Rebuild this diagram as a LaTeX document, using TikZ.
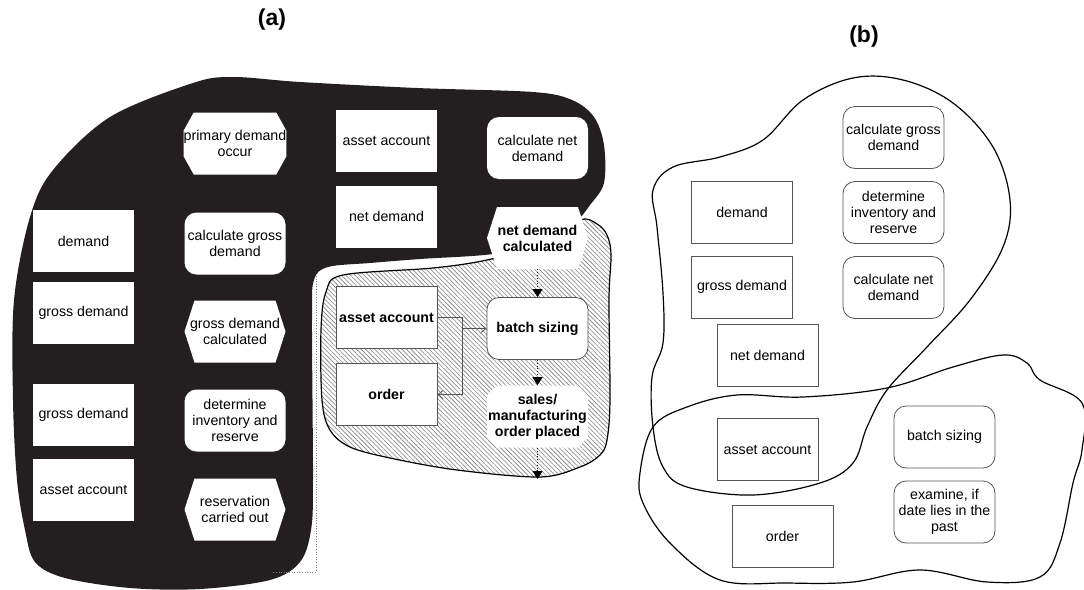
\documentclass[tikz,border=0pt]{standalone}
\usepackage{fontspec}
\setmainfont{Liberation Sans}
\usetikzlibrary{arrows.meta,patterns.meta,positioning}

\definecolor{blobfill}{RGB}{35,31,32}
\definecolor{boxline}{RGB}{85,85,85}

\begin{document}
\begin{tikzpicture}[
    x=0.5pt, y=-0.5pt,
    every node/.style={font=\fontsize{7.1}{8}\selectfont, align=center},
    box/.style={minimum width=50.5pt, minimum height=31pt, inner xsep=0pt, inner ysep=1pt},
    obj/.style={box, fill=white},
    fct/.style={box, fill=white, rounded corners=6pt},
    evt/.style={box, path picture={\fill[white]
        ([yshift=-#1]path picture bounding box.north west) -- ([xshift=5pt]path picture bounding box.north west)
        -- ([xshift=-5pt]path picture bounding box.north east) -- ([yshift=-#1]path picture bounding box.north east)
        -- ([yshift=#1]path picture bounding box.south east) -- ([xshift=-5pt]path picture bounding box.south east)
        -- ([xshift=5pt]path picture bounding box.south west) -- ([yshift=#1]path picture bounding box.south west) -- cycle;}},
    evt/.default=15.5pt,
    thinbox/.style={draw=boxline, line width=0.4pt},
    strong/.style={font=\fontsize{7.1}{8}\selectfont\bfseries},
    flow/.style={densely dotted, line width=0.4pt, -{Triangle[length=4pt,width=5pt]}},
    link/.style={boxline, line width=0.4pt, -{Straight Barb[length=2.5pt,width=4pt]}},
    blobline/.style={line width=0.6pt},
]
\useasboundingbox (0,0) rectangle (1084,590);

% (a) black area
\fill[blobfill] plot[smooth cycle, tension=0.55] coordinates {
    (233,77) (300,82) (417,88) (533,92) (572,100) (594,117) (604,145) (604,183)
    (590,205) (575,222) (540,242) (493,254) (420,259) (370,263) (328,267) (314,280)
    (312,320) (313,480) (311,530) (300,562) (270,580) (200,589) (130,588) (65,578)
    (35,562) (25,530) (17,480) (13,400) (14,300) (30,217) (53,170) (110,117) (193,83)};
% (a) hatched area
\draw[preaction={fill=white}, pattern={Lines[angle=-45,distance=1.6pt,line width=0.3pt]},
    pattern color=gray, blobline] plot[smooth cycle, tension=0.55] coordinates {
    (343,275) (433,268) (487,260) (540,245) (580,220) (597,224) (607,235) (611,255)
    (609,300) (610,400) (607,440) (600,455) (580,467) (540,477) (457,470) (390,458)
    (350,447) (330,430) (322,400) (321,330) (326,292)};
\draw[densely dotted, gray, line width=0.3pt] (316,276) -- (316,572) -- (273,572);

\node[font=\fontsize{11.5}{13}\selectfont\bfseries] (lbl-a) at (272,20) {(a)};
\node[font=\fontsize{11.5}{13}\selectfont\bfseries] (lbl-b) at (864,37) {(b)};

% (a) first column
\node[obj] (dem-a) at (83.5,241) {demand};
\node[obj, below of=dem-a, node distance=36pt] (gd-a) {gross demand};
\node[obj, below of=gd-a, node distance=51pt] (gd2-a) {gross demand};
\node[obj, below of=gd2-a, node distance=37.5pt] (aa-a) {asset account};
% (a) second column
\node[evt=9pt] (pdo-a) at (235,143.5) {primary demand\\occur};
\node[fct, below of=pdo-a, node distance=50pt] (cgd-a) {calculate gross\\demand};
\node[evt, below of=cgd-a, node distance=44pt] (gdc-a) {gross demand\\calculated};
\node[fct, below of=gdc-a, node distance=44.5pt] (dir-a) {determine\\inventory and\\reserve};
\node[evt, below of=dir-a, node distance=44.5pt] (rco-a) {reservation\\carried out};
% (a) third and fourth column
\node[obj] (aa3-a) at (386.5,140.5) {asset account};
\node[obj, below of=aa3-a, node distance=38pt] (nd-a) {net demand};
\node[fct] (cnd-a) at (537.5,148) {calculate net\\demand};
\node[evt, strong, below of=cnd-a, node distance=45pt] (ndc-a) {net demand\\calculated};
% (a) hatched part
\node[obj, thinbox, strong] (aa2-a) at (386.5,317.5) {asset account};
\node[obj, thinbox, strong, below of=aa2-a, node distance=38.5pt] (ord-a) {order};
\node[fct, thinbox, strong] (bat-a) at (537.5,328.5) {batch sizing};
\node[evt=5pt, strong, below of=bat-a, node distance=44pt] (smo-a) {sales/\\manufacturing\\order placed};
\coordinate (end-a) at (537.5,479);

\draw[flow] (ndc-a) -- (bat-a);
\draw[flow] (bat-a) -- (smo-a);
\draw[flow] (smo-a) -- (end-a);
\draw[link] (aa2-a.east) -- ++(25,0) |- (ord-a.east);
\draw[link] (aa2-a.east) ++(25,0) |- (bat-a.west);

% (b) outlines
\draw[blobline] plot[smooth cycle, tension=0.6] coordinates {
    (653,190) (673,167) (720,157) (763,140) (803,100) (853,78) (903,80) (953,103)
    (993,147) (1010,200) (1003,247) (970,300) (927,347) (887,390) (867,427) (853,463)
    (820,483) (753,495) (687,487) (663,467) (653,427) (652,377) (663,343) (663,293) (657,227)};
\draw[blobline] plot[smooth cycle, tension=0.6] coordinates {
    (640,473) (653,427) (687,407) (737,395) (803,397) (887,388) (953,367) (1003,355)
    (1027,363) (1040,380) (1082,403) (1082,450) (1073,483) (1060,543) (1040,577) (987,582)
    (920,570) (853,582) (787,583) (720,580) (670,543) (643,503)};

% (b) boxes
\node[fct, thinbox] (cgd-b) at (893.5,137.5) {calculate gross\\demand};
\node[fct, thinbox, below of=cgd-b, node distance=37.5pt] (dir-b) {determine\\inventory and\\reserve};
\node[fct, thinbox, below of=dir-b, node distance=37.5pt] (cnd-b) {calculate net\\demand};
\node[obj, thinbox] (dem-b) at (742,212) {demand};
\node[obj, thinbox, below of=dem-b, node distance=37.5pt] (gd-b) {gross demand};
\node[obj, thinbox] (nd-b) at (767.5,355.5) {net demand};
\node[obj, thinbox, below of=nd-b, node distance=47pt] (aa-b) {asset account};
\node[obj, thinbox] (ord-b) at (782.5,536.5) {order};
\node[fct, thinbox] (bat-b) at (944.5,437) {batch sizing};
\node[fct, thinbox, below of=bat-b, node distance=37.5pt] (exa-b) {examine, if\\date lies in the\\past};
\end{tikzpicture}
\end{document}
